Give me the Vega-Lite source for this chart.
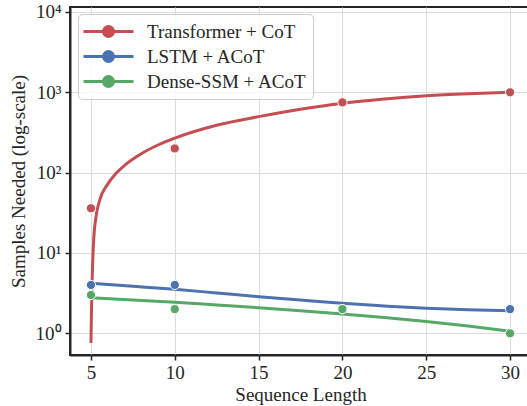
{
  "$schema": "https://vega.github.io/schema/vega-lite/v6.json",
  "width": 461,
  "height": 348,
  "autosize": "none",
  "padding": {"left": 70, "top": 7, "right": 0, "bottom": 51},
  "background": "white",
  "config": {
    "view": {"stroke": "#262626", "strokeWidth": 2},
    "font": "Liberation Serif",
    "axis": {
      "domainColor": "#262626",
      "domainWidth": 2,
      "tickColor": "#262626",
      "tickWidth": 1.5,
      "tickSize": 5,
      "gridColor": "#dcdcdc",
      "gridWidth": 1,
      "labelFont": "Liberation Serif",
      "labelFontSize": 19,
      "labelColor": "#262626",
      "titleFont": "Liberation Serif",
      "titleFontSize": 19,
      "titleFontWeight": "normal",
      "titleColor": "#262626"
    },
    "legend": {
      "labelFont": "Liberation Serif"
    }
  },
  "data": {
    "values": [
      {"series": "Transformer + CoT", "kind": "fit", "x": 5.0, "y": 0.76},
      {"series": "Transformer + CoT", "kind": "fit", "x": 5.03, "y": 1.8},
      {"series": "Transformer + CoT", "kind": "fit", "x": 5.07, "y": 4.5},
      {"series": "Transformer + CoT", "kind": "fit", "x": 5.15, "y": 13},
      {"series": "Transformer + CoT", "kind": "fit", "x": 5.3, "y": 28},
      {"series": "Transformer + CoT", "kind": "fit", "x": 5.5, "y": 44},
      {"series": "Transformer + CoT", "kind": "fit", "x": 6.0, "y": 72},
      {"series": "Transformer + CoT", "kind": "fit", "x": 6.5, "y": 98},
      {"series": "Transformer + CoT", "kind": "fit", "x": 7.0, "y": 123},
      {"series": "Transformer + CoT", "kind": "fit", "x": 8.0, "y": 172},
      {"series": "Transformer + CoT", "kind": "fit", "x": 9.0, "y": 221},
      {"series": "Transformer + CoT", "kind": "fit", "x": 10, "y": 269},
      {"series": "Transformer + CoT", "kind": "fit", "x": 12.5, "y": 389},
      {"series": "Transformer + CoT", "kind": "fit", "x": 15, "y": 498},
      {"series": "Transformer + CoT", "kind": "fit", "x": 17.5, "y": 615},
      {"series": "Transformer + CoT", "kind": "fit", "x": 20, "y": 730},
      {"series": "Transformer + CoT", "kind": "fit", "x": 22.5, "y": 825},
      {"series": "Transformer + CoT", "kind": "fit", "x": 25, "y": 905},
      {"series": "Transformer + CoT", "kind": "fit", "x": 27.5, "y": 960},
      {"series": "Transformer + CoT", "kind": "fit", "x": 30, "y": 1000},
      {"series": "LSTM + ACoT", "kind": "fit", "x": 5, "y": 4.2},
      {"series": "LSTM + ACoT", "kind": "fit", "x": 7.5, "y": 3.85},
      {"series": "LSTM + ACoT", "kind": "fit", "x": 10, "y": 3.53},
      {"series": "LSTM + ACoT", "kind": "fit", "x": 12.5, "y": 3.18},
      {"series": "LSTM + ACoT", "kind": "fit", "x": 15, "y": 2.86},
      {"series": "LSTM + ACoT", "kind": "fit", "x": 17.5, "y": 2.6},
      {"series": "LSTM + ACoT", "kind": "fit", "x": 20, "y": 2.36},
      {"series": "LSTM + ACoT", "kind": "fit", "x": 22.5, "y": 2.19},
      {"series": "LSTM + ACoT", "kind": "fit", "x": 25, "y": 2.05},
      {"series": "LSTM + ACoT", "kind": "fit", "x": 27.5, "y": 1.96},
      {"series": "LSTM + ACoT", "kind": "fit", "x": 30, "y": 1.91},
      {"series": "Dense-SSM + ACoT", "kind": "fit", "x": 5, "y": 2.78},
      {"series": "Dense-SSM + ACoT", "kind": "fit", "x": 7.5, "y": 2.6},
      {"series": "Dense-SSM + ACoT", "kind": "fit", "x": 10, "y": 2.43},
      {"series": "Dense-SSM + ACoT", "kind": "fit", "x": 12.5, "y": 2.25},
      {"series": "Dense-SSM + ACoT", "kind": "fit", "x": 15, "y": 2.08},
      {"series": "Dense-SSM + ACoT", "kind": "fit", "x": 17.5, "y": 1.91},
      {"series": "Dense-SSM + ACoT", "kind": "fit", "x": 20, "y": 1.74},
      {"series": "Dense-SSM + ACoT", "kind": "fit", "x": 22.5, "y": 1.57},
      {"series": "Dense-SSM + ACoT", "kind": "fit", "x": 25, "y": 1.4},
      {"series": "Dense-SSM + ACoT", "kind": "fit", "x": 27.5, "y": 1.23},
      {"series": "Dense-SSM + ACoT", "kind": "fit", "x": 30, "y": 1.06},
      {"series": "Transformer + CoT", "kind": "obs", "x": 5, "y": 36},
      {"series": "Transformer + CoT", "kind": "obs", "x": 10, "y": 200},
      {"series": "Transformer + CoT", "kind": "obs", "x": 20, "y": 750},
      {"series": "Transformer + CoT", "kind": "obs", "x": 30, "y": 1000},
      {"series": "LSTM + ACoT", "kind": "obs", "x": 5, "y": 4},
      {"series": "LSTM + ACoT", "kind": "obs", "x": 10, "y": 4},
      {"series": "LSTM + ACoT", "kind": "obs", "x": 20, "y": 2},
      {"series": "LSTM + ACoT", "kind": "obs", "x": 30, "y": 2},
      {"series": "Dense-SSM + ACoT", "kind": "obs", "x": 5, "y": 3},
      {"series": "Dense-SSM + ACoT", "kind": "obs", "x": 10, "y": 2},
      {"series": "Dense-SSM + ACoT", "kind": "obs", "x": 20, "y": 2},
      {"series": "Dense-SSM + ACoT", "kind": "obs", "x": 30, "y": 1}
    ]
  },
  "encoding": {
    "x": {
      "field": "x",
      "type": "quantitative",
      "scale": {"domain": [3.75, 31.25], "nice": false, "zero": false},
      "axis": {"values": [5, 10, 15, 20, 25, 30], "title": "Sequence Length", "labelPadding": 3, "titlePadding": 3}
    },
    "y": {
      "field": "y",
      "type": "quantitative",
      "scale": {"type": "log", "domain": [0.537, 11540], "nice": false},
      "axis": {
        "values": [1, 10, 100, 1000, 10000],
        "labelExpr": "'10' + ['⁰','¹','²','³','⁴'][round(log(datum.value)/LN10)]",
        "title": "Samples Needed (log-scale)",
        "labelPadding": 4,
        "titlePadding": 7
      }
    },
    "color": {
      "field": "series",
      "type": "nominal",
      "sort": ["Transformer + CoT", "LSTM + ACoT", "Dense-SSM + ACoT"],
      "scale": {
        "domain": ["Transformer + CoT", "LSTM + ACoT", "Dense-SSM + ACoT"],
        "range": ["#c44e52", "#4c72b0", "#55a868"]
      },
      "legend": {
        "title": null,
        "orient": "none",
        "legendX": 8,
        "legendY": 7,
        "padding": 6,
        "symbolType": "M-2.5,0L2.5,0M0.5,0A0.5,0.5,0,1,1,-0.5,0A0.5,0.5,0,1,1,0.5,0Z",
        "symbolSize": 400,
        "symbolOffset": 13,
        "labelOffset": 27,
        "symbolStrokeWidth": 3,
        "labelFontSize": 19,
        "labelColor": "#262626",
        "rowPadding": 2,
        "fillColor": "rgba(255,255,255,0.8)",
        "strokeColor": "#cccccc",
        "cornerRadius": 4,
        "encode": {
          "symbols": {
            "update": {
              "stroke": {"scale": "color", "field": "value"},
              "fill": {"scale": "color", "field": "value"},
              "strokeWidth": {"value": 3},
              "opacity": {"value": 1}
            }
          }
        }
      }
    }
  },
  "layer": [
    {
      "transform": [{"filter": "datum.kind == 'fit'"}],
      "mark": {"type": "line", "strokeWidth": 3, "interpolate": "monotone", "clip": true}
    },
    {
      "transform": [{"filter": "datum.kind == 'obs'"}],
      "mark": {"type": "point", "filled": true, "size": 85, "stroke": "white", "strokeWidth": 1, "opacity": 1}
    }
  ]
}
